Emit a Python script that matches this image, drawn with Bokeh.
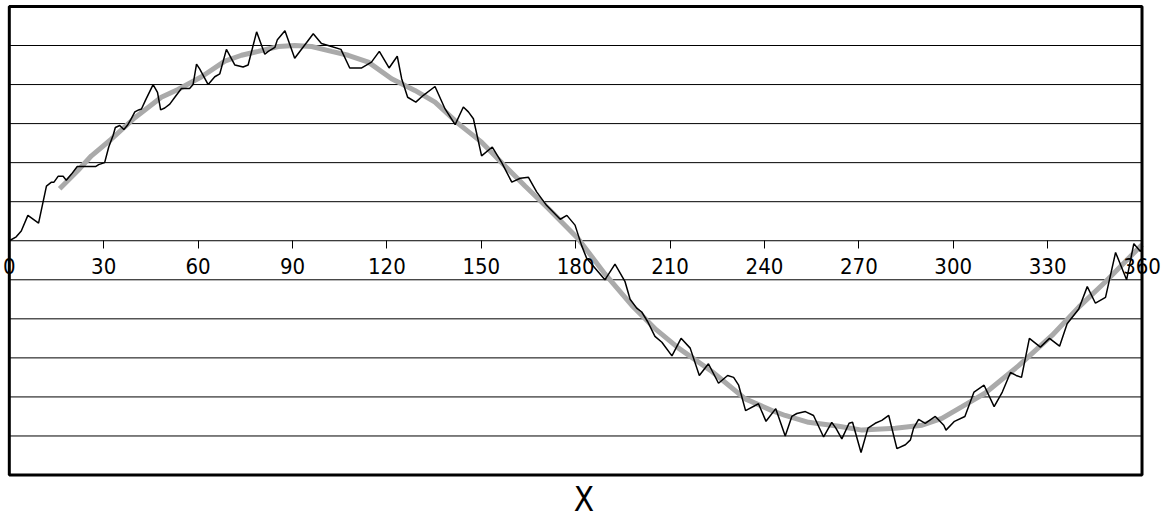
from bokeh.plotting import figure
from bokeh.models import LinearAxis, FixedTicker, Range1d
from bokeh.embed import file_html
from bokeh.resources import INLINE

noisy_x = [0, 2.2, 3.8, 5.9, 9.3, 11.8, 13.4, 14.2, 15.5, 17.1, 18.1, 19.7, 21.6, 23.4, 27.4,
           28.4, 30.3, 31.6, 33.0, 33.7, 35.1, 36.4, 37.5, 38.6, 39.9, 41.1, 42.0, 43.3, 45.7,
           47.1, 48.1, 49.4, 51.0, 52.6, 54.7, 57.3, 58.4, 59.5, 60.5, 63.2, 65.3, 66.9, 69.0,
           71.7, 74.3, 75.9, 78.6, 81.2, 82.3, 84.4, 85.2, 87.6, 90.7, 94.5, 96.6, 99.2, 102.4,
           105.4, 108.2, 112.0, 115.1, 117.6, 120.7, 123.3, 124.7, 126.6, 129.2, 131.6, 135.3,
           138.5, 141.7, 144.3, 145.9, 147.5, 150.1, 153.5, 156.5, 159.7, 162.4, 165.0, 167.6,
           170.8, 175.1, 177.2, 179.8, 181.9, 183.5, 187.2, 189.3, 192.5, 195.7, 197.3, 199.4,
           201.0, 202.9, 205.2, 207.4, 210.6, 213.5, 216.4, 219.3, 222.2, 225.4, 228.3, 230.2,
           231.8, 234.0, 238.1, 240.5, 243.6, 246.6, 248.7, 250.3, 253.0, 255.6, 258.8, 261.4,
           262.7, 264.6, 266.9, 268.0, 270.7, 272.9, 275.2, 277.3, 279.5, 282.1, 284.8, 286.4,
           287.4, 289.0, 291.1, 294.3, 297.0, 297.7, 300.4, 303.7, 306.6, 309.8, 313.0, 315.6,
           318.2, 320.0, 321.7, 324.2, 327.7, 330.6, 333.8, 336.2, 339.9, 342.6, 345.2, 348.4,
           351.6, 355.1, 357.4, 359.5, 360.0]
noisy_y = [0.0, 0.02, 0.05, 0.13, 0.09, 0.28, 0.30, 0.30, 0.33, 0.33, 0.31, 0.34, 0.38, 0.38, 0.38,
           0.39, 0.40, 0.48, 0.54, 0.58, 0.59, 0.57, 0.59, 0.62, 0.66, 0.67, 0.675, 0.72, 0.80,
           0.76, 0.67, 0.68, 0.70, 0.735, 0.78, 0.78, 0.80, 0.905, 0.88, 0.80, 0.84, 0.855, 0.98,
           0.90, 0.89, 0.90, 1.07, 0.955, 0.97, 0.99, 1.03, 1.075, 0.935, 1.015, 1.06, 1.01, 0.995,
           0.98, 0.885, 0.885, 0.915, 0.97, 0.885, 0.945, 0.83, 0.735, 0.71, 0.745, 0.79,
           0.675, 0.595, 0.685, 0.66, 0.625, 0.435, 0.48, 0.40, 0.30, 0.32, 0.325, 0.25,
           0.18, 0.11, 0.13, 0.08, -0.025, -0.09, -0.16, -0.20, -0.12, -0.21, -0.30, -0.345,
           -0.365, -0.415, -0.49, -0.52, -0.59, -0.50, -0.55, -0.69, -0.63, -0.73, -0.69, -0.70,
           -0.74, -0.87, -0.835, -0.925, -0.86, -1.00, -0.90, -0.885, -0.875, -0.895, -1.005, -0.93,
           -0.96, -1.015, -0.935, -0.93, -1.085, -0.96, -0.935, -0.92, -0.895, -1.065, -1.045, -1.02,
           -0.96, -0.915, -0.935, -0.90, -0.945, -0.97, -0.925, -0.90, -0.775, -0.74, -0.85, -0.775,
           -0.675, -0.69, -0.70, -0.50, -0.545, -0.50, -0.54, -0.425, -0.35, -0.235, -0.32, -0.29,
           -0.06, -0.20, -0.015, -0.055, -0.04]

# Smoothed series (degrees, value)
smooth_x = [16.0, 21.8, 26.1, 32.4, 39.9, 48.3, 53.6, 61.1, 68.5, 73.8, 79.1, 85.5, 90.7, 96.1,
            102.4, 107.7, 114.1, 121.5, 128.9, 135.3, 142.7, 150.1, 156.5, 163.9, 171.3, 180.8,
            189.3, 197.8, 205.2, 212.7, 223.3, 233.9, 242.4, 246.6, 254.0, 263.6, 271.0, 281.6,
            290.1, 296.4, 302.8, 310.2, 320.8, 331.4, 339.9, 348.4, 360.0]
smooth_y = [0.266, 0.36, 0.435, 0.52, 0.63, 0.735, 0.775, 0.84, 0.92, 0.95, 0.97, 0.995, 1.0, 0.995,
            0.97, 0.95, 0.915, 0.83, 0.77, 0.71, 0.60, 0.505, 0.40, 0.28, 0.165, 0.01,
            -0.17, -0.33, -0.45, -0.55, -0.67, -0.81, -0.87, -0.895, -0.93, -0.95, -0.97, -0.96,
            -0.945, -0.91, -0.85, -0.78, -0.64, -0.485, -0.34, -0.21, -0.02]

x_ticks = [0, 30, 60, 90, 120, 150, 180, 210, 240, 270, 300, 330, 360]
y_grid_values = [-1.0, -0.8, -0.6, -0.4, -0.2, 0.0, 0.2, 0.4, 0.6, 0.8, 1.0]
x_min, x_max = 0, 360
y_min, y_max = -1.2, 1.2
x_label = "X"

FONT = "DejaVu Sans Condensed"

# frame slightly larger than the data box so the end tick labels are not clipped
p = figure(width=1167, height=521, x_range=Range1d(-2.8, 368.1),
           y_range=Range1d(-1.2127, 1.2305),
           x_axis_location=None, y_axis_location=None, toolbar_location=None,
           output_backend="svg", min_border_left=0, min_border_right=0,
           min_border_top=0, min_border_bottom=41)
p.outline_line_color = None
p.background_fill_color = "white"
p.border_fill_color = "white"
for g in p.grid:
    g.visible = False

# horizontal grid lines across the data box
n = len(y_grid_values)
p.segment(x0=[x_min] * n, y0=y_grid_values, x1=[x_max] * n, y1=y_grid_values,
          line_color="black", line_width=1)

# axis drawn through y = 0 with the degree ticks
ax = LinearAxis(fixed_location=0, ticker=FixedTicker(ticks=x_ticks),
                major_tick_in=0, major_tick_out=8, minor_tick_line_color=None,
                axis_line_color=None, major_tick_line_color="black",
                major_label_text_font=FONT, major_label_text_font_size="22px",
                major_label_text_color="black", major_label_standoff=9)
p.add_layout(ax, "below")

# bottom axis only carrying the title
ax_title = LinearAxis(ticker=FixedTicker(ticks=[]), axis_line_color=None,
                      major_tick_line_color=None, minor_tick_line_color=None,
                      axis_label=x_label, axis_label_text_font=FONT,
                      axis_label_text_font_size="33px", axis_label_text_font_style="normal",
                      axis_label_text_color="black", axis_label_standoff=2)
p.add_layout(ax_title, "below")

p.line(smooth_x, smooth_y, line_color="#aaaaaa", line_width=5)
p.line(noisy_x, noisy_y, line_color="black", line_width=1.5)

# plot box border
p.quad(left=[x_min], right=[x_max], bottom=[y_min], top=[y_max],
       fill_color=None, line_color="black", line_width=3)

open("out.html", "w").write(file_html(p, INLINE))
